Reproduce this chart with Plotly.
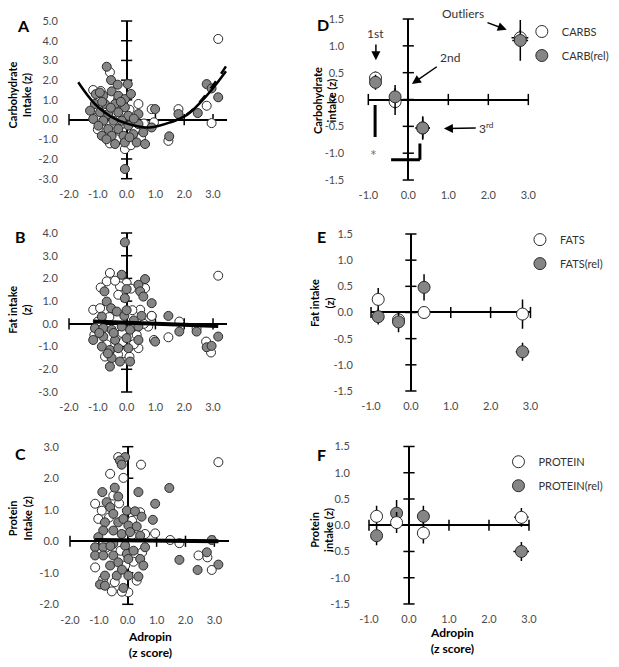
import plotly.graph_objects as go

# ---------------- DATA ----------------
# Panel A: carbohydrate intake (z) vs adropin (z)
A_carbs_x = [3.18, -0.58, -1.16, 0.41, -0.58, -0.06, -0.40, 0.23, 0.87, 1.80, 2.78, 2.95, 0.95, 1.45, -1.04, -0.23, 0.17,
             -0.90, -0.30, 0.10, -0.75, -0.20, 0.30, -0.50, -1.00, 0.15, -0.35, 0.50, -0.15, 0.60]
A_carbs_y = [4.09, 2.40, 1.50, 0.79, -1.21, -1.50, 0.62, -0.31, 0.53, 0.53, 0.70, -0.18, -0.14, -1.08, 0.10, 0.86, -1.00,
             1.45, 1.00, 0.50, 0.15, -0.25, -0.50, -0.60, -0.50, -1.30, -1.00, -0.90, 0.45, -0.20]
A_rel_x = [-0.69, -0.54, -0.31, 0.04, -1.07, -0.81, -0.52, -0.29, -0.06, -1.10, -0.75, -0.40, -0.06, -1.27, -0.92,
           -0.64, -0.29, 0.06, 0.41, -1.16, -0.81, -0.46, -0.17, -0.98, -0.64, -0.29, 0.06, 0.41, -0.86, -0.52,
           -0.11, 0.23, 0.58, -0.40, -0.06, 0.35, 0.64, -0.06, 2.78, 2.95, 3.18, 2.47, 1.80, 0.99, 0.87, 1.48, -0.93,
           -0.20, -0.85, 0.25, -0.55, 0.10, -0.70, 0.15]
A_rel_y = [2.68, 2.00, 1.77, 1.80, 1.29, 1.21, 1.43, 1.21, 1.04, 0.79, 0.79, 0.79, 0.62, 0.45, 0.37,
           0.28, 0.37, 0.19, 0.28, 0.03, -0.06, -0.06, -0.06, -0.31, -0.48, -0.48, -0.31, -0.23, -0.82, -0.82,
           -0.82, -0.74, -0.65, -1.24, -1.16, -1.16, -1.24, -2.51, 1.80, 1.58, 1.13, 0.33, 0.28, 0.53, -0.40, -0.85, 1.37,
           0.90, 0.90, 0.05, 0.60, -0.90, -1.00, 1.30]
A_fit_x = [-1.68, -1.10, -0.40, 0.29, 0.81, 1.51, 2.09, 2.78, 3.45]
A_fit_y = [1.89, 0.79, 0.03, -0.31, -0.40, -0.14, 0.23, 1.21, 2.45]
A_fit_rel_x = [1.51, 2.09, 2.78, 3.50]
A_fit_rel_y = [-0.14, 0.25, 1.30, 2.82]

# Panel B: fat intake (z)
B_fats_x = [-0.58, -0.69, 0.00, -0.23, -0.29, -1.16, -0.92, 0.47, 0.87, -1.12, -0.34, 0.35, 0.41, -0.11, 0.75,
            3.18, 0.87, 1.83, 1.45, 2.43, 2.76, 2.93, 0.95, -0.75, 0.64,
            -0.90, -0.40, 0.15, -0.60, 0.20, -0.15, 0.25, -0.70, -0.30, 0.10, -1.00, 0.60]
B_fats_y = [2.24, 1.87, 1.80, 1.65, 1.28, 0.62, 0.69, 0.62, 0.35, -0.49, -0.56, -0.49, -1.07, -1.29, -0.12,
            2.12, 0.35, 0.10, -0.59, -0.19, -0.78, -1.26, -0.71, -1.44, 1.57,
            1.60, 1.90, 1.55, 0.30, 0.60, -0.40, -0.90, -0.90, -1.35, -1.45, 0.10, 0.00]
B_rel_x = [-0.06, -0.17, 0.64, 0.41, 0.47, 0.58, 0.00, -0.06, -0.77, -0.69, -0.54, -0.86, -0.34, -0.08, 0.52,
           -1.10, -0.81, -0.52, -0.17, 0.12, 0.41, -1.16, -0.81, -0.86, -0.40, 0.00, 0.41, -0.58, -0.29, 0.06,
           -0.52, -0.23, 0.12, -0.58, 0.87, 1.45, 1.83, 2.43, 3.18, 2.78, 2.95, 0.99,
           -0.45, 0.25, -0.65, 0.00, -0.95]
B_rel_y = [3.59, 2.16, 1.97, 1.72, 1.43, 1.20, 1.53, 1.13, 1.43, 0.98, 0.69, 0.32, 0.54, 0.35, 0.35,
           -0.19, -0.19, -0.26, -0.12, -0.26, -0.12, -0.71, -0.56, -1.00, -0.71, -0.63, -0.71, -1.15, -1.07, -1.07,
           -1.51, -1.66, -1.66, -1.88, 0.91, 0.35, -0.34, -0.34, -0.56, -1.03, -0.97, -0.78,
           -0.40, 0.15, -1.30, 0.60, -0.40]
B_fit_x = [-1.16, 3.18]
B_fit_y = [0.10, -0.09]

# Panel C: protein intake (z)
C_prot_x = [-0.33, 0.46, -0.61, -0.15, -0.50, -1.13, -0.90, 0.43, -1.02, 0.60, -1.13, -0.09, 0.31, -0.55, 0.02,
            3.14, 0.95, 1.47, 1.79, 2.45, 2.76, 2.91,
            -0.65, 0.15, -0.30, -0.75, -0.25, 0.20, -0.45, -0.85, 0.50, -0.20, 0.15]
C_prot_y = [2.67, 2.43, 2.14, 2.01, 1.45, 1.19, 0.97, 0.92, 0.71, 0.23, -0.83, -0.77, -1.25, -1.59, -1.62,
            2.51, 0.25, 0.04, -0.06, -0.45, -0.51, -0.91,
            0.75, 0.65, 1.20, -0.20, -0.30, -0.65, -1.30, -1.20, -0.35, -1.60, 0.20]
C_rel_x = [-0.09, -0.27, -0.21, 0.37, -0.88, -0.33, -0.73, -0.61, -0.03, 0.48, -0.50, -0.79, -0.33, -0.15, 0.02,
           0.31, -0.85, -0.50, -0.21, 0.08, 0.43, -1.02, -1.13, -0.85, -0.50, -0.09, 0.60, -1.13, -0.85, -0.50,
           -0.03, 0.02, 0.43, -0.61, -0.33, 0.54, -0.79, -0.38, 0.02, 0.37, -0.96, -0.79, -0.15,
           1.44, 0.95, 0.87, 1.79, 2.42, 2.74, 2.91, 3.14,
           -0.60, 0.20, -0.45, 0.25, -0.20]
C_rel_y = [2.67, 2.56, 2.43, 1.56, 1.56, 1.42, 1.24, 1.08, 0.97, 0.78, 0.87, 0.60, 0.60, 0.71, 0.50,
           0.47, 0.34, 0.34, 0.23, 0.29, 0.18, 0.13, -0.19, -0.19, -0.08, -0.14, -0.19, -0.45, -0.45, -0.45,
           -0.40, -0.56, -0.56, -0.77, -0.67, -0.77, -1.09, -1.09, -1.09, -1.12, -1.37, -1.41, -1.48,
           1.69, 1.19, 0.68, -0.59, -0.91, -0.35, 0.04, -0.74,
           -0.15, -0.30, 1.70, 0.95, -0.90]
C_fit_x = [-1.15, 3.14]
C_fit_y = [0.04, 0.00]

# Panels D-F: group means (quartiles of adropin) with error bars
D_x = [-0.82, -0.33, 0.36, 2.80]
D_carbs_y = [0.40, -0.04, -0.53, 1.15]
D_carbs_ey = [0.12, 0.25, 0.20, 0.15]
D_carbs_ex = [0.0, 0.0, 0.18, 0.22]
D_rel_y = [0.32, 0.05, -0.53, 1.10]
D_rel_ey = [0.14, 0.22, 0.22, 0.38]
D_rel_ex = [0.0, 0.0, 0.18, 0.20]

E_x = [-0.82, -0.31, 0.33, 2.80]
E_fats_y = [0.25, -0.14, 0.00, -0.03]
E_fats_ey = [0.22, 0.15, 0.10, 0.28]
E_fats_ex = [0.0, 0.0, 0.10, 0.15]
E_rel_y = [-0.08, -0.18, 0.48, -0.75]
E_rel_ey = [0.15, 0.20, 0.25, 0.17]
E_rel_ex = [0.0, 0.0, 0.15, 0.17]

F_x = [-0.81, -0.31, 0.36, 2.81]
F_prot_y = [0.17, 0.05, -0.15, 0.15]
F_prot_ey = [0.20, 0.20, 0.20, 0.18]
F_prot_ex = [0.0, 0.0, 0.15, 0.18]
F_rel_y = [-0.20, 0.23, 0.17, -0.50]
F_rel_ey = [0.18, 0.25, 0.20, 0.18]
F_rel_ex = [0.0, 0.0, 0.15, 0.20]

# tick values
ABC_xticks = [-2.0, -1.0, 0.0, 1.0, 2.0, 3.0]
A_yticks = [-3.0, -2.0, -1.0, 0.0, 1.0, 2.0, 3.0, 4.0, 5.0]
B_yticks = [-3.0, -2.0, -1.0, 0.0, 1.0, 2.0, 3.0, 4.0]
C_yticks = [-2.0, -1.0, 0.0, 1.0, 2.0, 3.0]
DEF_xticks = [-1.0, 0.0, 1.0, 2.0, 3.0]
DEF_yticks = [-1.5, -1.0, -0.5, 0.0, 0.5, 1.0, 1.5]

# ---------------- STYLE ----------------
FONT = "Lato"
GRAY = "#858585"
EDGE = "#2b2b2b"
TICKFONT = dict(family=FONT, size=11, color="#4a4a4a")

fig = go.Figure()


def axis_ticks(xr, yr, xt, yt):
    fig.add_trace(go.Scatter(x=[0.0] * len(yt), y=yt, mode="markers", xaxis=xr, yaxis=yr,
                             marker=dict(symbol="line-ew", size=8, line=dict(width=1.5, color="black")),
                             showlegend=False, hoverinfo="skip", cliponaxis=False))
    fig.add_trace(go.Scatter(x=xt, y=[0.0] * len(xt), mode="markers", xaxis=xr, yaxis=yr,
                             marker=dict(symbol="line-ns", size=8, line=dict(width=1.5, color="black")),
                             showlegend=False, hoverinfo="skip", cliponaxis=False))


def pts(x, y, xr, yr, fill, size=9, **kw):
    fig.add_trace(go.Scatter(x=x, y=y, mode="markers", xaxis=xr, yaxis=yr,
                             marker=dict(size=size, color=fill, line=dict(width=1, color=EDGE)),
                             cliponaxis=False, **kw))


# Panel A
axis_ticks("x", "y", ABC_xticks, A_yticks)
pts(A_carbs_x, A_carbs_y, "x", "y", "white", showlegend=False)
pts(A_rel_x, A_rel_y, "x", "y", GRAY, showlegend=False)
fig.add_trace(go.Scatter(x=A_fit_x, y=A_fit_y, mode="lines", line=dict(color="black", width=2.5, shape="spline"),
                         xaxis="x", yaxis="y", showlegend=False))
fig.add_trace(go.Scatter(x=A_fit_rel_x, y=A_fit_rel_y, mode="lines",
                         line=dict(color="black", width=2.5, dash="dash", shape="spline"),
                         xaxis="x", yaxis="y", showlegend=False))

# Panel B
axis_ticks("x2", "y2", ABC_xticks, B_yticks)
pts(B_fats_x, B_fats_y, "x2", "y2", "white", showlegend=False)
pts(B_rel_x, B_rel_y, "x2", "y2", GRAY, showlegend=False)
fig.add_trace(go.Scatter(x=B_fit_x, y=B_fit_y, mode="lines", line=dict(color="black", width=4),
                         xaxis="x2", yaxis="y2", showlegend=False))

# Panel C
axis_ticks("x3", "y3", ABC_xticks, C_yticks)
pts(C_prot_x, C_prot_y, "x3", "y3", "white", showlegend=False)
pts(C_rel_x, C_rel_y, "x3", "y3", GRAY, showlegend=False)
fig.add_trace(go.Scatter(x=C_fit_x, y=C_fit_y, mode="lines", line=dict(color="black", width=4),
                         xaxis="x3", yaxis="y3", showlegend=False))


def err(a):
    return dict(type="data", array=a, color="black", thickness=1.5, width=0)


def means(x, y, ey, ex, xr, yr, fill, name, legend, rank):
    fig.add_trace(go.Scatter(x=x, y=y, mode="markers", xaxis=xr, yaxis=yr, name=name,
                             marker=dict(size=12, color=fill, line=dict(width=1, color=EDGE)),
                             error_y=err(ey), error_x=err(ex), legend=legend, legendrank=rank,
                             legendgroup=name, cliponaxis=False))


# Panel D
axis_ticks("x4", "y4", DEF_xticks, DEF_yticks)
means(D_x, D_carbs_y, D_carbs_ey, D_carbs_ex, "x4", "y4", "white", "CARBS", "legend", 1)
means(D_x, D_rel_y, D_rel_ey, D_rel_ex, "x4", "y4", GRAY, "CARB(rel)", "legend", 2)

# Panel E
axis_ticks("x5", "y5", DEF_xticks, DEF_yticks)
means(E_x, E_fats_y, E_fats_ey, E_fats_ex, "x5", "y5", "white", "FATS", "legend2", 1)
means(E_x, E_rel_y, E_rel_ey, E_rel_ex, "x5", "y5", GRAY, "FATS(rel)", "legend2", 2)

# Panel F
axis_ticks("x6", "y6", DEF_xticks, DEF_yticks)
means(F_x, F_rel_y, F_rel_ey, F_rel_ex, "x6", "y6", GRAY, "PROTEIN(rel)", "legend3", 2)
means(F_x, F_prot_y, F_prot_ey, F_prot_ex, "x6", "y6", "white", "PROTEIN", "legend3", 1)


def xax(rng, ticks, dom, anchor, standoff=5):
    return dict(domain=dom, range=rng, tickvals=ticks, ticktext=[f"{t:.1f}" for t in ticks],
                showgrid=False, zeroline=True, zerolinecolor="black", zerolinewidth=2, showline=False,
                ticks="outside", ticklen=standoff, tickcolor="rgba(0,0,0,0)", tickfont=TICKFONT,
                anchor=anchor, fixedrange=True, automargin=False)


yax = xax

layout_axes = dict(
    xaxis=xax([-2, 3.5], ABC_xticks, [0.1115, 0.3674], "y"),
    yaxis=yax([-3, 5], A_yticks, [0.7321, 0.9685], "x", 8),
    xaxis2=xax([-2, 3.5], ABC_xticks, [0.1115, 0.3674], "y2"),
    yaxis2=yax([-3, 4], B_yticks, [0.4123, 0.6507], "x2", 8),
    xaxis3=xax([-2, 3.5], ABC_xticks, [0.1131, 0.3696], "y3"),
    yaxis3=yax([-2, 3], C_yticks, [0.0940, 0.3303], "x3", 8),
    xaxis4=xax([-1, 3], DEF_xticks, [0.5950, 0.8535], "y4"),
    yaxis4=yax([-1.5, 1.5], DEF_yticks, [0.7301, 0.9715], "x4", 21),
    xaxis5=xax([-1, 3], DEF_xticks, [0.5994, 0.8570], "y5"),
    yaxis5=yax([-1.5, 1.5], DEF_yticks, [0.4138, 0.6492], "x5", 15),
    xaxis6=xax([-1, 3], DEF_xticks, [0.5961, 0.8546], "y6"),
    yaxis6=yax([-1.5, 1.5], DEF_yticks, [0.0945, 0.3306], "x6", 16),
)

LEG = dict(font=dict(family=FONT, size=11, color="#333333"), bgcolor="rgba(0,0,0,0)",
           tracegroupgap=5, itemwidth=30, xanchor="left", yanchor="top")

ann = []
bold = dict(family=FONT, size=11, color="black")
for txt, x, y in [("A", 0.0377, 0.9625), ("B", 0.0339, 0.6451), ("C", 0.0339, 0.3204),
                  ("D", 0.5213, 0.9640), ("E", 0.5197, 0.6451), ("F", 0.5197, 0.3193)]:
    ann.append(dict(text=f"<b>{txt}</b>", x=x, y=y, xref="paper", yref="paper", showarrow=False,
                    xanchor="center", yanchor="middle", font=dict(family=FONT, size=16, color="black")))
for txt, x, y in [("Carbohydrate<br>Intake (z)", 0.0315, 0.8576), ("Fat intake<br>(<i>z</i>)", 0.0302, 0.5352),
                  ("Protein<br>Intake (z)", 0.0331, 0.2234), ("Carbohydrate<br>intake (z)", 0.5240, 0.8490),
                  ("Fat intake<br>(z)", 0.5197, 0.5453), ("Protein<br>intake (z)", 0.5200, 0.2054)]:
    ann.append(dict(text=f"<b>{txt}</b>", x=x, y=y, xref="paper", yref="paper", showarrow=False,
                    textangle=-90, xanchor="center", yanchor="middle", font=bold))
for x, y in [(0.2423, 0.0330), (0.7297, 0.0397)]:
    ann.append(dict(text="<b>Adropin<br>(z score)</b>", x=x, y=y, xref="paper", yref="paper",
                    showarrow=False, xanchor="center", yanchor="middle", font=dict(family=FONT, size=12, color="black")))

lab = dict(family=FONT, size=12, color="#333333")
# Panel D labels with arrows: (text, text x, text y, head x, head y)
for txt, tx, ty, hx, hy in [("Outliers", 1.37, 1.60, 2.46, 1.30), ("1st", -0.81, 1.23, -0.81, 0.73),
                            ("2nd", 1.04, 0.78, 0.09, 0.29), ("3<sup>rd</sup>", 1.96, -0.53, 0.89, -0.54)]:
    ann.append(dict(text=txt, x=hx, y=hy, ax=tx, ay=ty, xref="x4", yref="y4", axref="x4", ayref="y4",
                    showarrow=True, arrowhead=2, arrowsize=1.2, arrowwidth=1.5, arrowcolor="black",
                    standoff=0, startstandoff=2, font=lab))
ann.append(dict(text="*", x=-0.86, y=-1.02, xref="x4", yref="y4", showarrow=False,
                font=dict(family=FONT, size=16, color="#777777")))

shapes = []
for x0, y0, x1, y1 in [(-0.83, -0.10, -0.83, -0.70), (-0.43, -1.12, 0.29, -1.12), (0.29, -0.82, 0.29, -1.12)]:
    shapes.append(dict(type="line", x0=x0, y0=y0, x1=x1, y1=y1, xref="x4", yref="y4",
                       line=dict(color="black", width=3)))

fig.update_layout(
    template="none",
    width=619, height=667, margin=dict(l=0, r=0, t=0, b=0, autoexpand=False),
    paper_bgcolor="white", plot_bgcolor="white",
    font=dict(family=FONT),
    annotations=ann, shapes=shapes,
    legend=dict(LEG, x=0.843, y=0.9745),
    legend2=dict(LEG, x=0.840, y=0.6625),
    legend3=dict(LEG, x=0.8053, y=0.3295),
    **layout_axes,
)

fig.write_html("out.html", config={"displayModeBar": False},
               post_script="document.body.style.margin='0px';")
